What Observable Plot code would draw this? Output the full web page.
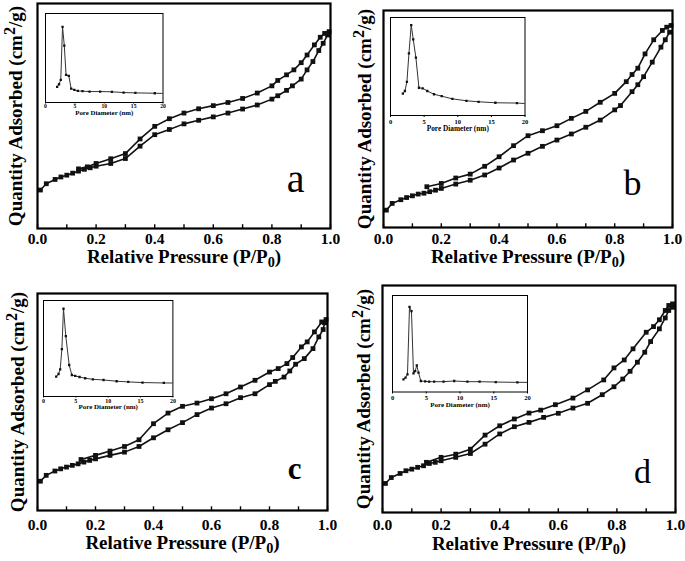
<!DOCTYPE html>
<html><head><meta charset="utf-8">
<script src="https://cdn.jsdelivr.net/npm/d3@7"></script>
<script src="https://cdn.jsdelivr.net/npm/@observablehq/plot@0.6"></script>
<style>
body{margin:0;background:#fff;}
#fig{position:relative;width:685px;height:561px;overflow:hidden;background:#fff;}
#fig svg{position:absolute;}
</style></head><body><div id="fig"></div>
<script>
// ---- tick labels / titles ----
const pressureTicks = [0, 0.2, 0.4, 0.6, 0.8, 1.0];
const pressureMinor = [0.1, 0.3, 0.5, 0.7, 0.9];
const poreTicks = [0, 5, 10, 15, 20];
const xTitle = "Relative Pressure (P/P0)";
const yTitle = "Quantity Adsorbed (cm2/g)";
const insetTitle = "Pore Diameter (nm)";
const panelLetters = ["a", "b", "c", "d"];

// ---- panel a ----
const aAdsP = [0.01,0.03,0.06,0.08,0.10,0.12,0.14,0.16,0.18,0.20,0.25,0.30,0.35,0.40,0.45,0.50,0.55,0.60,0.65,0.70,0.75,0.80,0.82,0.85,0.87,0.90,0.92,0.94,0.96,0.975,0.99];
const aAdsQ = [17.1,19.9,21.8,22.9,23.7,24.6,25.5,26.3,27.0,27.7,28.9,31.1,36.6,41.7,44.0,46.5,48.1,49.6,51.3,53.1,54.9,57.5,59.0,61.4,63.4,66.4,70.5,74.2,79.1,82.3,86.0];
const aDesP = [0.14,0.17,0.20,0.25,0.30,0.35,0.40,0.45,0.50,0.55,0.60,0.65,0.70,0.75,0.80,0.82,0.85,0.875,0.90,0.92,0.945,0.965,0.98,0.995];
const aDesQ = [26.5,27.4,28.9,31.0,33.3,39.8,45.4,48.8,51.3,53.2,54.6,56.0,57.8,60.2,63.4,65.8,68.3,70.5,73.7,77.1,81.6,85.0,86.7,87.5];
const aPoreD = [1.98,2.3,2.6,2.9,3.2,3.5,3.97,4.36,4.9,5.5,6.3,7.5,9.3,11.3,13.3,15.3,18.6,21];
const aPoreV = [17.5,20.5,25.4,85,64,31,30,15.7,14.2,13,12.7,12.3,12.3,12,11.2,10.8,10.4,10];

// ---- panel b ----
const bAdsP = [0.01,0.03,0.06,0.08,0.10,0.12,0.14,0.16,0.18,0.20,0.25,0.30,0.35,0.40,0.45,0.50,0.55,0.60,0.65,0.70,0.75,0.80,0.82,0.86,0.88,0.90,0.93,0.96,0.975,0.99];
const bAdsQ = [8.0,11.1,12.8,13.8,14.6,15.4,15.8,16.5,17.2,18.0,20.0,21.8,24.2,27.4,31.1,34.2,37.4,40.3,43.1,46.2,49.5,54.2,56.2,62.6,65.8,69.5,76.2,83.1,86.5,90.0];
const bDesP = [0.15,0.20,0.25,0.30,0.35,0.40,0.45,0.50,0.55,0.60,0.65,0.70,0.75,0.80,0.84,0.86,0.88,0.905,0.935,0.965,0.98,0.995];
const bDesQ = [18.8,20.3,22.8,24.6,28.2,32.6,37.7,42.3,44.6,46.9,50.3,53.5,57.7,61.8,67.2,70.5,73.4,80.0,86.5,90.8,92.3,93.1];
const bPoreD = [1.84,2.14,2.44,2.74,3.08,3.38,3.78,4.23,4.78,5.47,6.47,7.61,9.2,11.3,13.1,15.6,18.8,21];
const bPoreV = [22.3,25,34.3,63.3,92.3,77.7,59,28.3,27.7,25,21.7,19.7,17,15,14,13,12.7,11.8];

// ---- panel c ----
const cAdsP = [0.01,0.03,0.06,0.08,0.10,0.12,0.14,0.16,0.18,0.20,0.25,0.30,0.35,0.40,0.45,0.50,0.55,0.60,0.65,0.70,0.75,0.80,0.82,0.85,0.87,0.89,0.92,0.95,0.97,0.985,0.99];
const cAdsQ = [13.5,16.2,18.2,19.2,20.0,20.8,21.5,22.3,23.1,23.8,25.4,26.9,29.5,33.5,37.2,40.5,44.2,47.2,49.2,52.0,53.8,58.0,59.5,61.5,64.3,67.4,70.0,74.6,80.0,83.4,86.5];
const cDesP = [0.15,0.20,0.25,0.30,0.35,0.40,0.45,0.50,0.55,0.60,0.65,0.70,0.75,0.80,0.83,0.86,0.88,0.91,0.93,0.955,0.98,0.995];
const cDesQ = [23.5,25.4,27.4,29.5,32.6,40.0,44.9,48.0,49.5,51.5,53.8,56.9,60.0,63.8,65.4,67.7,70.5,75.4,77.7,82.3,86.9,88.0];
const cPoreD = [1.96,2.32,2.58,2.84,3.09,3.45,3.97,4.38,4.9,5.57,6.44,7.63,9.28,11.3,13.1,15.3,18.6,21];
const cPoreV = [20.7,23.4,28.3,49.3,91.4,62.8,32.8,22.4,21.4,20.3,19,17.9,17.2,15.9,15.2,14.5,14.1,14];

// ---- panel d ----
const dAdsP = [0.01,0.03,0.06,0.08,0.10,0.12,0.14,0.16,0.18,0.20,0.25,0.30,0.35,0.40,0.45,0.50,0.55,0.60,0.65,0.70,0.75,0.79,0.82,0.845,0.87,0.895,0.915,0.945,0.965,0.977,0.99];
const dAdsQ = [12.8,15.4,17.2,18.4,19.1,19.9,20.6,21.6,22.1,22.8,24.3,26.0,30.1,34.6,37.8,39.7,41.9,43.7,46.0,48.1,51.9,55.4,58.8,62.2,66.2,70.6,75.3,80.9,85.7,89.0,90.4];
const dDesP = [0.15,0.20,0.25,0.30,0.35,0.40,0.45,0.50,0.54,0.59,0.65,0.70,0.755,0.79,0.825,0.855,0.90,0.925,0.945,0.965,0.977,0.99];
const dDesQ = [22.1,24.3,25.7,27.9,34.1,38.2,41.2,43.8,45.1,47.5,50.4,54.0,58.4,63.7,67.2,72.1,79.4,81.9,84.9,89.0,91.2,91.9];
const dPoreD = [1.63,1.93,2.22,2.52,2.81,3.11,3.36,3.6,3.85,4.2,4.84,5.43,6.17,7.56,9.14,11.1,12.9,15.3,18.5,21];
const dPoreV = [13.1,14.8,18.3,88.3,83.8,19.3,21.7,27.6,20,11.4,11,10.7,10.7,10.7,11.4,10.7,10.7,10.3,10,10];

// ---- layout (positions / sizes) ----
const mainLayout = [
  {left:0,   top:0,   w:342, h:280, ml:37, mr:12, mt:3,  mb:52, tp:4,  td:34.5, yd:-22, lx:-35, ly:-37, lf:40, lw:"normal"},
  {left:342, top:0,   w:343, h:280, ml:41, mr:13, mt:10, mb:53, tp:5,  td:35.5, yd:-19, lx:-40, ly:-33, lf:36, lw:"normal"},
  {left:0,   top:280, w:342, h:281, ml:37, mr:15, mt:13, mb:51, tp:8,  td:38, yd:-20, lx:-33, ly:-32, lf:31, lw:"bold"},
  {left:342, top:280, w:343, h:281, ml:40, mr:10, mt:5,  mb:49, tp:6,  td:37.5, yd:-19, lx:-33, ly:-30, lf:34, lw:"normal"}
];
const insetLayout = [
  {fl:45,    ft:12.5, fw:117.5, fh:89,   ts:1.5, tp:0.5, tf:5.6, td:12, nf:6.8},
  {fl:390,   ft:17,   fw:134.5, fh:98,   ts:2,   tp:1.5, tf:6.5, td:15.5, nf:7.3},
  {fl:43.3,  ft:300,  fw:129.4, fh:96,   ts:1.5, tp:0.5, tf:6,   td:12.5, nf:7},
  {fl:391.5, ft:294.5,fw:135,   fh:96.5, ts:2,   tp:1,   tf:6.5, td:15, nf:7}
];

const SERIF = "'Liberation Serif','Times New Roman',serif";
const fig = document.getElementById("fig");

function rows(xs, ys, kx, ky) { return xs.map((v, i) => ({[kx]: v, [ky]: ys[i]})); }

function richText(svg) {
  svg.querySelectorAll("text").forEach(t => {
    if (t.textContent === xTitle) {
      t.innerHTML = 'Relative Pressure (P/P<tspan dy="4" font-size="75%">0</tspan><tspan dy="-4">)</tspan>';
    } else if (t.textContent === yTitle) {
      t.innerHTML = 'Quantity Adsorbed (cm<tspan dy="-7" font-size="85%">2</tspan><tspan dy="7">/g)</tspan>';
    }
  });
}

function mainPanel(L, ads, des, letter) {
  const A = rows(ads[0], ads[1], "p", "q");
  const D = rows(des[0], des[1], "p", "q");
  const svg = Plot.plot({
    width: L.w, height: L.h,
    marginLeft: L.ml, marginRight: L.mr, marginTop: L.mt, marginBottom: L.mb,
    style: {fontFamily: SERIF, color: "#000", background: "transparent", overflow: "visible"},
    x: {domain: [0, 1]},
    y: {domain: [0, 100], axis: null},
    marks: [
      Plot.line(A, {x: "p", y: "q", stroke: "#111", strokeWidth: 1.6}),
      Plot.line(D, {x: "p", y: "q", stroke: "#111", strokeWidth: 1.6}),
      Plot.dot(A, {x: "p", y: "q", symbol: "square", r: 2.7, fill: "#111", stroke: "none"}),
      Plot.dot(D, {x: "p", y: "q", symbol: "square", r: 2.7, fill: "#111", stroke: "none"}),
      Plot.ruleX(pressureMinor.concat(pressureTicks), {x: d => d, y1: 0, y2: 1.7, stroke: "#000", strokeWidth: 1.4}),
      Plot.axisX(pressureTicks, {tickSize: 0, tickPadding: L.tp, tickFormat: d => d.toFixed(1), fontSize: 15.5, fontWeight: "bold", label: null}),
      Plot.frame({stroke: "#000", strokeWidth: 2.2}),
      Plot.text([xTitle], {text: d => d, frameAnchor: "bottom", dy: L.td, fontSize: 19, fontWeight: "bold", textAnchor: "middle"}),
      Plot.text([yTitle], {text: d => d, frameAnchor: "left", rotate: -90, dx: L.yd, fontSize: 19, fontWeight: "bold", textAnchor: "middle"}),
      Plot.text([letter], {text: d => d, frameAnchor: "bottom-right", dx: L.lx, dy: L.ly, fontSize: L.lf, fontWeight: L.lw, textAnchor: "middle"})
    ]
  });
  richText(svg);
  svg.style.left = L.left + "px";
  svg.style.top = L.top + "px";
  fig.appendChild(svg);
}

function insetPanel(I, pore) {
  const P = rows(pore[0], pore[1], "d", "v");
  const ml = 6, mr = 6, mt = 3, mb = 20;
  const svg = Plot.plot({
    width: I.fw + ml + mr, height: I.fh + mt + mb,
    marginLeft: ml, marginRight: mr, marginTop: mt, marginBottom: mb,
    style: {fontFamily: SERIF, color: "#000", background: "transparent", overflow: "visible"},
    x: {domain: [0, 20]},
    y: {domain: [0, 100], axis: null},
    marks: [
      Plot.frame({fill: "#fff", stroke: "none"}),
      Plot.line(P, {x: "d", y: "v", stroke: "#333", strokeWidth: 1, clip: true}),
      Plot.dot(P, {x: "d", y: "v", symbol: "square", r: 1.3, fill: "#111", stroke: "none", clip: true}),
      Plot.axisX(poreTicks, {tickSize: I.ts, tickPadding: I.tp, fontSize: I.tf, fontWeight: "bold", label: null}),
      Plot.frame({stroke: "#000", strokeWidth: 1}),
      Plot.text([insetTitle], {text: d => d, frameAnchor: "bottom", dy: I.td, fontSize: I.nf, fontWeight: "bold", textAnchor: "middle"})
    ]
  });
  svg.style.left = (I.fl - ml) + "px";
  svg.style.top = (I.ft - mt) + "px";
  fig.appendChild(svg);
}

const ads = [[aAdsP, aAdsQ], [bAdsP, bAdsQ], [cAdsP, cAdsQ], [dAdsP, dAdsQ]];
const des = [[aDesP, aDesQ], [bDesP, bDesQ], [cDesP, cDesQ], [dDesP, dDesQ]];
const pores = [[aPoreD, aPoreV], [bPoreD, bPoreV], [cPoreD, cPoreV], [dPoreD, dPoreV]];

for (let i = 0; i < 4; i++) {
  mainPanel(mainLayout[i], ads[i], des[i], panelLetters[i]);
  insetPanel(insetLayout[i], pores[i]);
}
</script></body></html>
